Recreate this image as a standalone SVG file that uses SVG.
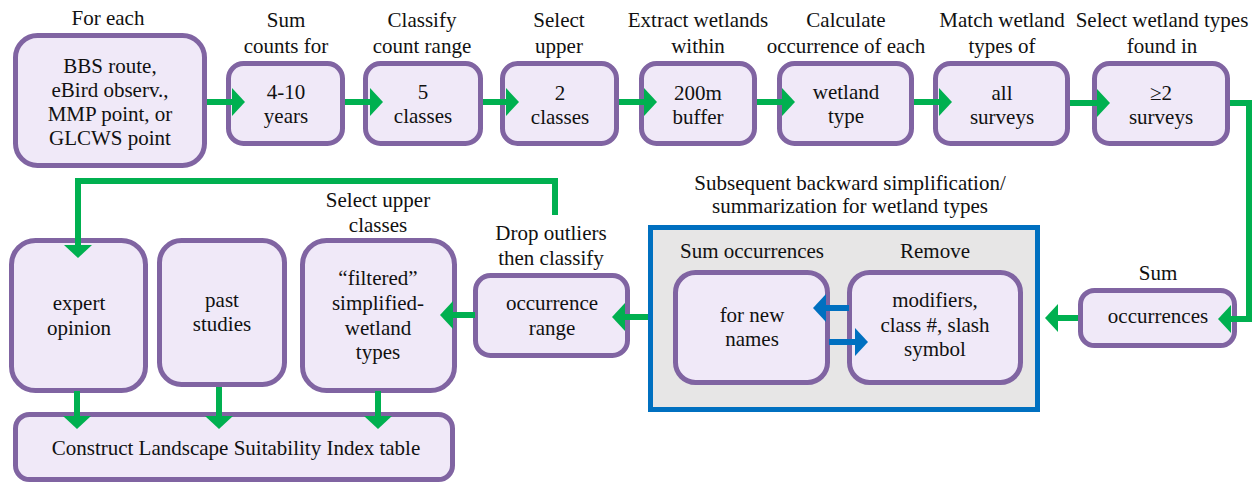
<svg xmlns="http://www.w3.org/2000/svg" width="1260" height="485" viewBox="0 0 1260 485">
<defs>
<style>
text{font-size:21px;fill:#111;text-anchor:middle}
.box{fill:#F0E9F8;stroke:#8064A2;stroke-width:5}
.cont{fill:#E7E6E6;stroke:#0070C0;stroke-width:5}
.g{fill:none;stroke:#00B050;stroke-width:6;stroke-linejoin:miter}
.b{fill:none;stroke:#0070C0;stroke-width:6}
</style>
<marker id="ag" markerUnits="userSpaceOnUse" markerWidth="14" markerHeight="28" refX="0" refY="14" orient="auto" viewBox="0 0 14 28"><path d="M0,0 L13,14 L0,28 z" fill="#00B050"/></marker>
<marker id="ab" markerUnits="userSpaceOnUse" markerWidth="14" markerHeight="28" refX="0" refY="14" orient="auto" viewBox="0 0 14 28"><path d="M0,0 L13,14 L0,28 z" fill="#0070C0"/></marker>
</defs>
<g font-family="'Liberation Serif', 'DejaVu Serif', serif">
<g id="container">
<rect class="cont" x="650.5" y="227.5" width="387" height="182"/>
<text x="850" y="190">Subsequent backward simplification/</text>
<text x="850" y="213">summarization for wetland types</text>
</g>

<g id="n1"><text x="108" y="25">For each</text>
<rect class="box" x="15.5" y="35.5" width="189" height="130" rx="22"/>
<text x="110" y="73">BBS route,</text><text x="110" y="97">eBird observ.,</text><text x="110" y="121">MMP point, or</text><text x="110" y="145">GLCWS point</text></g>

<g id="n2"><text x="286" y="27">Sum</text><text x="286" y="53">counts for</text>
<rect class="box" x="228.5" y="63.5" width="114" height="80" rx="15"/>
<text x="286" y="99">4-10</text><text x="286" y="123">years</text></g>

<g id="n3"><text x="422" y="27">Classify</text><text x="422" y="53">count range</text>
<rect class="box" x="365.5" y="63.5" width="115" height="80" rx="15"/>
<text x="423" y="99">5</text><text x="423" y="123">classes</text></g>

<g id="n4"><text x="559" y="27">Select</text><text x="559" y="53">upper</text>
<rect class="box" x="502.5" y="63.5" width="114" height="80" rx="15"/>
<text x="560" y="100">2</text><text x="560" y="124">classes</text></g>

<g id="n5"><text x="698" y="27">Extract wetlands</text><text x="698" y="53">within</text>
<rect class="box" x="641.5" y="63.5" width="113" height="80" rx="15"/>
<text x="698" y="100">200m</text><text x="698" y="124">buffer</text></g>

<g id="n6"><text x="846" y="27">Calculate</text><text x="846" y="53">occurrence of each</text>
<rect class="box" x="779.5" y="63.5" width="132" height="80" rx="15"/>
<text x="846" y="99">wetland</text><text x="846" y="123">type</text></g>

<g id="n7"><text x="1002" y="27">Match wetland</text><text x="1002" y="53">types of</text>
<rect class="box" x="935.5" y="63.5" width="132" height="80" rx="15"/>
<text x="1002" y="100">all</text><text x="1002" y="124">surveys</text></g>

<g id="n8"><text x="1162" y="27">Select wetland types</text><text x="1162" y="53">found in</text>
<rect class="box" x="1094.5" y="63.5" width="133" height="80" rx="15"/>
<text x="1161" y="100">≥2</text><text x="1161" y="124">surveys</text></g>

<g id="n9"><text x="1158" y="280">Sum</text>
<rect class="box" x="1080.5" y="290.5" width="154" height="55" rx="14"/>
<text x="1158" y="323">occurrences</text></g>

<g id="n10"><text x="752" y="258">Sum occurrences</text>
<rect class="box" x="675.5" y="272.5" width="152" height="110" rx="20"/>
<text x="752" y="322">for new</text><text x="752" y="346">names</text></g>

<g id="n11"><text x="935" y="258">Remove</text>
<rect class="box" x="849.5" y="272.5" width="171" height="110" rx="20"/>
<text x="935" y="307">modifiers,</text><text x="935" y="332">class #, slash</text><text x="935" y="356">symbol</text></g>

<g id="n12"><text x="551" y="240">Drop outliers</text><text x="551" y="265">then classify</text>
<rect class="box" x="475.5" y="275.5" width="152" height="80" rx="15"/>
<text x="552" y="310">occurrence</text><text x="552" y="335">range</text></g>

<g id="n13"><text x="378" y="207">Select upper</text><text x="378" y="232">classes</text>
<rect class="box" x="302.5" y="240.5" width="152" height="150" rx="24"/>
<text x="378" y="285">“filtered”</text><text x="378" y="310">simplified-</text><text x="378" y="335">wetland</text><text x="378" y="359">types</text></g>

<g id="n14">
<rect class="box" x="159.5" y="240.5" width="125" height="144" rx="22"/>
<text x="222" y="307">past</text><text x="222" y="331">studies</text></g>

<g id="n15">
<rect class="box" x="11.5" y="240.5" width="134" height="150" rx="24"/>
<text x="79" y="310">expert</text><text x="79" y="335">opinion</text></g>

<g id="n16">
<rect class="box" x="15.5" y="414.5" width="437" height="65" rx="14"/>
<text x="236" y="455">Construct Landscape Suitability Index table</text></g>
</g>
<g id="connectors">
<path class="g" d="M207,102 H232" marker-end="url(#ag)"/>
<path class="g" d="M345,102 H370" marker-end="url(#ag)"/>
<path class="g" d="M483,102 H506" marker-end="url(#ag)"/>
<path class="g" d="M619,102 H644" marker-end="url(#ag)"/>
<path class="g" d="M757,102 H782" marker-end="url(#ag)"/>
<path class="g" d="M914,102 H939" marker-end="url(#ag)"/>
<path class="g" d="M1070,103 H1097" marker-end="url(#ag)"/>
<path class="g" d="M1230,103 H1249 V319 H1231" marker-end="url(#ag)"/>
<path class="g" d="M1078,318 H1058" marker-end="url(#ag)"/>
<path class="g" d="M648,317 H625" marker-end="url(#ag)"/>
<path class="g" d="M475,315 H453" marker-end="url(#ag)"/>
<path class="g" d="M555,215 V181 H78 V245" marker-end="url(#ag)"/>
<path class="g" d="M77,391 V416" marker-end="url(#ag)"/>
<path class="g" d="M219,387 V416" marker-end="url(#ag)"/>
<path class="g" d="M378,391 V416" marker-end="url(#ag)"/>
<path class="b" d="M849,308 H826" marker-end="url(#ab)"/>
<path class="b" d="M829,342 H855" marker-end="url(#ab)"/>
</g>
</svg>
